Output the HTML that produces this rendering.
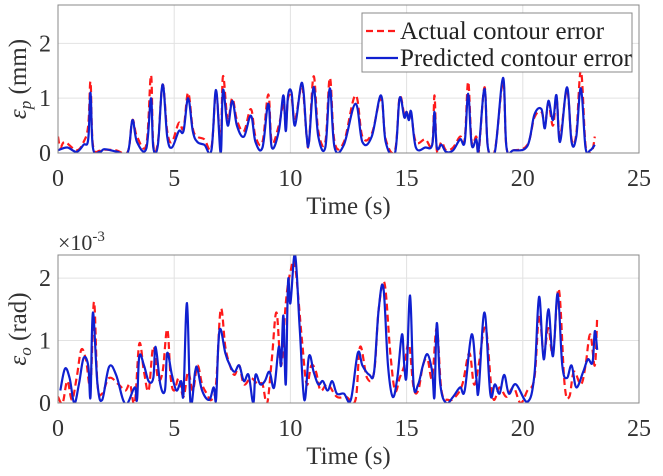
<!DOCTYPE html>
<html><head><meta charset="utf-8">
<style>
html,body{margin:0;padding:0;background:#fff;}
svg{display:block;font-family:"Liberation Serif",serif;}
</style></head>
<body>
<svg id="chart" width="663" height="476" viewBox="0 0 663 476" xmlns="http://www.w3.org/2000/svg"></svg>
<script>
// ---- Top panel data (position contour error, mm) ----
const topTimeP = [0,0.4,0.8,1.1,1.3,1.4,1.5,1.8,2.0,2.5,3.0,3.2,3.4,3.8,4.0,4.1,4.3,4.5,4.7,4.9,5.2,5.4,5.6,5.8,6.0,6.3,6.6,6.8,7.0,7.1,7.3,7.5,7.7,8.0,8.3,8.5,8.8,9.05,9.2,9.5,9.7,9.8,9.9,10.05,10.2,10.5,10.7,10.8,11.0,11.2,11.5,11.7,11.9,12.3,12.8,13.1,13.5,13.9,14.1,14.5,14.7,14.9,15.0,15.1,15.2,15.4,15.8,16.1,16.2,16.3,16.5,16.7,17.0,17.3,17.5,17.65,17.8,18.0,18.1,18.35,18.5,18.8,19.15,19.3,19.6,20.2,20.5,20.8,20.95,21.1,21.3,21.45,21.6,21.9,22.1,22.3,22.5,22.7,22.9,23.1];
const topPred  = [0.05,0.1,0.02,0.15,0.25,1.1,0.1,0.02,0.07,0.03,0.01,0.6,0.2,0.08,1.0,0.1,0.15,1.25,0.3,0.1,0.4,0.4,1.0,0.4,0.2,0.15,0.05,1.15,0.0,1.15,0.5,0.95,0.5,0.3,0.68,0.2,0.1,0.9,0.1,0.4,1.05,0.4,1.05,1.1,0.5,1.28,0.3,0.2,1.2,0.3,0.1,1.18,0.1,0.15,0.9,0.2,0.3,1.05,0.2,0.0,1.0,0.65,0.75,0.6,0.75,0.1,0.1,0.15,0.75,0.1,0.15,0.02,0.05,0.25,0.2,1.08,0.15,0.25,0.05,1.17,0.1,0.02,1.37,0.1,0.05,0.13,0.7,0.8,0.45,0.95,0.6,1.05,0.2,1.2,0.2,0.3,1.18,0.1,0.05,0.15];
const topTimeA = [0,0.1,0.3,0.8,1.1,1.3,1.4,1.5,1.8,2.0,2.5,3.0,3.2,3.4,3.8,4.0,4.1,4.3,4.5,4.7,4.9,5.2,5.4,5.6,5.8,6.0,6.3,6.6,6.8,7.0,7.1,7.3,7.5,7.7,8.0,8.3,8.5,8.8,9.05,9.2,9.5,9.7,9.8,9.9,10.05,10.2,10.5,10.7,10.8,11.0,11.2,11.5,11.7,11.9,12.3,12.8,13.1,13.5,13.9,14.1,14.5,14.7,14.9,15.0,15.1,15.2,15.4,15.8,16.1,16.2,16.3,16.5,16.7,17.0,17.3,17.5,17.65,17.8,18.0,18.1,18.35,18.5,18.8,19.15,19.3,19.6,20.2,20.5,20.8,20.95,21.1,21.3,21.45,21.6,21.9,22.1,22.3,22.5,22.7,22.9,23.0,23.1];
const topAct   = [0.3,0.1,0.2,0.05,0.2,0.5,1.3,0.15,0.04,0.06,0.05,0.02,0.6,0.3,0.15,1.42,0.15,0.2,1.25,0.4,0.2,0.55,0.45,1.1,0.45,0.3,0.25,0.1,1.1,0.2,1.4,0.6,1.0,0.6,0.4,0.8,0.3,0.2,1.07,0.2,0.5,0.9,0.5,1.0,1.0,0.6,1.2,0.3,0.2,1.4,0.4,0.2,1.37,0.2,0.2,1.05,0.3,0.35,1.0,0.25,0.05,1.02,0.7,0.75,0.65,0.7,0.2,0.25,0.15,1.05,0.05,0.2,0.05,0.1,0.3,0.25,1.3,0.2,0.3,0.0,1.2,0.1,0.05,1.3,0.1,0.05,0.15,0.65,0.75,0.5,0.9,0.5,1.0,0.3,1.15,0.25,0.35,1.5,0.15,0.0,0.05,0.3];
// ---- Bottom panel data (orientation contour error, x1e-3 rad) ----
const botTimeP = [0.1,0.3,0.5,0.7,0.9,1.1,1.3,1.4,1.5,1.7,1.9,2.2,2.5,2.8,3.0,3.3,3.4,3.5,3.7,3.9,4.1,4.2,4.4,4.6,4.7,4.9,5.1,5.3,5.4,5.55,5.7,5.9,6.0,6.2,6.5,6.7,6.8,6.9,7.0,7.2,7.4,7.6,7.8,8.0,8.2,8.4,8.5,8.7,8.9,9.1,9.3,9.5,9.6,9.7,9.8,9.9,10.0,10.2,10.4,10.6,10.8,11.0,11.2,11.4,11.6,11.8,12.0,12.3,12.6,12.9,13.1,13.4,13.6,13.8,14.0,14.2,14.4,14.6,14.8,14.9,15.0,15.15,15.3,15.5,15.7,15.9,16.1,16.2,16.3,16.45,16.7,17.0,17.3,17.5,17.8,18.0,18.1,18.35,18.6,18.8,19.0,19.2,19.4,19.7,20.2,20.5,20.7,20.9,21.1,21.3,21.5,21.7,21.9,22.1,22.3,22.6,22.8,23.0,23.1,23.2];
const botPred  = [0.2,0.55,0.4,0.0,0.3,0.72,0.6,0.1,1.45,0.3,0.05,0.58,0.45,0.05,0.0,0.25,0.05,0.75,0.6,0.35,0.4,0.9,0.3,0.2,0.8,0.45,0.2,0.35,0.15,1.6,0.0,0.5,0.55,0.2,0.05,0.25,0.05,0.95,1.18,0.8,0.6,0.5,0.6,0.35,0.45,0.0,0.45,0.3,0.35,0.5,0.25,0.9,0.6,1.4,0.3,1.95,1.6,2.38,1.2,0.05,0.75,0.5,0.3,0.35,0.2,0.35,0.15,0.15,0.05,0.8,0.6,0.45,0.5,1.5,1.85,0.6,0.1,0.4,1.1,0.6,0.45,1.72,0.3,0.3,0.6,0.78,0.5,0.1,1.28,0.3,0.0,0.1,0.25,0.2,1.1,0.4,0.2,1.45,0.15,0.3,0.15,0.45,0.15,0.3,0.02,0.45,1.7,0.7,1.5,0.75,1.75,0.6,0.4,0.6,0.25,0.5,0.7,0.65,1.15,0.85];
const botTimeA = [0.0,0.2,0.4,0.6,0.8,1.0,1.2,1.4,1.55,1.7,1.9,2.2,2.6,2.9,3.1,3.3,3.5,3.7,3.9,4.1,4.3,4.5,4.7,4.85,5.0,5.2,5.4,5.6,5.8,6.0,6.2,6.4,6.6,6.8,7.0,7.2,7.4,7.6,7.8,8.0,8.3,8.6,8.8,9.0,9.2,9.4,9.6,9.8,10.0,10.2,10.5,10.7,10.9,11.1,11.3,11.6,12.0,12.4,12.8,13.0,13.3,13.6,13.8,14.05,14.3,14.5,14.7,14.9,15.1,15.3,15.5,15.7,15.9,16.1,16.3,16.5,16.8,17.1,17.4,17.7,17.9,18.1,18.4,18.7,19.0,19.3,19.6,19.9,20.2,20.5,20.7,20.9,21.1,21.3,21.55,21.8,22.0,22.2,22.5,22.7,22.9,23.1,23.2];
const botAct   = [0.1,0.0,0.35,0.05,0.4,0.85,0.7,0.3,1.62,0.3,0.15,0.4,0.3,0.2,0.3,0.0,0.95,0.5,0.2,0.9,0.4,0.5,1.18,0.4,0.2,0.4,0.1,0.5,0.2,0.6,0.3,0.15,0.05,0.3,1.5,0.9,0.6,0.45,0.6,0.3,0.4,0.3,0.3,0.0,0.7,1.45,0.6,1.6,2.1,2.2,1.0,0.3,0.6,0.5,0.2,0.3,0.1,0.1,0.05,0.9,0.4,0.5,1.5,1.92,0.8,0.2,0.4,0.6,0.95,0.25,0.2,0.6,0.7,0.4,1.2,0.2,0.05,0.1,0.3,0.8,0.3,0.6,1.2,0.1,0.25,0.1,0.25,0.0,0.2,0.4,1.4,0.8,1.2,0.8,1.82,0.3,0.1,0.5,0.3,0.6,1.1,0.6,1.38];

const NS='http://www.w3.org/2000/svg';
const svg=document.getElementById('chart');
function mk(tag,attrs,parent){const e=document.createElementNS(NS,tag);for(const k in attrs)e.setAttribute(k,attrs[k]);(parent||svg).appendChild(e);return e;}

function smoothPath(pts){
  let d='M'+pts[0][0].toFixed(1)+' '+pts[0][1].toFixed(1);
  for(let i=0;i<pts.length-1;i++){
    const p0=pts[Math.max(0,i-1)],p1=pts[i],p2=pts[i+1],p3=pts[Math.min(pts.length-1,i+2)];
    const k=0.18;
    const c1x=p1[0]+(p2[0]-p0[0])*k,c1y=p1[1]+(p2[1]-p0[1])*k;
    const c2x=p2[0]-(p3[0]-p1[0])*k,c2y=p2[1]-(p3[1]-p1[1])*k;
    d+='C'+c1x.toFixed(1)+' '+c1y.toFixed(1)+' '+c2x.toFixed(1)+' '+c2y.toFixed(1)+' '+p2[0].toFixed(1)+' '+p2[1].toFixed(1);
  }
  return d;
}

function panel(cfg){
  const g=mk('g',{});
  
  
  const L=58,R=639,T=cfg.top,B=cfg.bottom;
  const xs=t=>L+(t/25)*(R-L);
  const ys=v=>B-(v/cfg.ymax)*(B-T);
  [5,10,15,20].forEach(t=>{const l=mk('line',{x1:xs(t),x2:xs(t),y1:T,y2:B,stroke:'#e2e2e2','stroke-width':1},g);
    });
  cfg.yticks.forEach(v=>{if(v===0)return;const l=mk('line',{x1:L,x2:R,y1:ys(v),y2:ys(v),stroke:'#e2e2e2','stroke-width':1},g);
    });
  const clipId='clip-'+cfg.name;
  const cp=mk('clipPath',{id:clipId},g);
  mk('rect',{x:L,y:T,width:R-L,height:B-T},cp);
  function series(times,vals,color,dash,name){
    const pts=times.map((t,i)=>[xs(t),ys(vals[i])]);
    const p=mk('path',{d:smoothPath(pts),fill:'none',stroke:color,'stroke-width':2.2,'stroke-linejoin':'round','clip-path':'url(#'+clipId+')'},g);
    if(dash)p.setAttribute('stroke-dasharray',dash);
    
  }
  series(cfg.tA,cfg.vA,'#ff1a1a','7,4','actual-series');
  series(cfg.tP,cfg.vP,'#1020d0',null,'predicted-series');
  const bx=mk('rect',{x:L,y:T,width:R-L,height:B-T,fill:'none',stroke:'#888','stroke-width':1},g);
  
  [0,5,10,15,20,25].forEach(t=>{
    const tx=mk('text',{x:xs(t),y:B+33,'text-anchor':'middle','font-size':24,fill:'#333'},g);
    tx.textContent=t;
    
  });
  cfg.yticks.forEach(v=>{
    const tx=mk('text',{x:L-7,y:ys(v)+8,'text-anchor':'end','font-size':24,fill:'#333'},g);
    tx.textContent=v;
    
  });
  const xl=mk('text',{x:(L+R)/2,y:B+61,'text-anchor':'middle','font-size':25,fill:'#333'},g);
  xl.textContent='Time (s)';
  
  const yl=mk('text',{transform:`translate(26,${(T+B)/2}) rotate(-90)`,'text-anchor':'middle','font-size':25,fill:'#333'},g);
  yl.innerHTML='<tspan font-style="italic">ε</tspan><tspan font-style="italic" font-size="17" dy="5">'+cfg.sub+'</tspan><tspan dy="-5"> ('+cfg.unit+')</tspan>';
  
}

panel({name:'position-error-panel',top:5,bottom:153,ymax:2.7,yticks:[0,1,2],sub:'p',unit:'mm',tP:topTimeP,vP:topPred,tA:topTimeA,vA:topAct});
panel({name:'orientation-error-panel',top:255,bottom:403,ymax:2.37,yticks:[0,1,2],sub:'o',unit:'rad',tP:botTimeP,vP:botPred,tA:botTimeA,vA:botAct});

const ex=mk('text',{x:58,y:250,'font-size':22,fill:'#333'});
ex.innerHTML='×10<tspan font-size="15" dy="-9">-3</tspan>';



const lg=mk('g',{});


mk('rect',{x:362,y:13,width:270,height:59,fill:'#fff',stroke:'#888','stroke-width':1},lg);
const l1=mk('line',{x1:366,x2:398,y1:31,y2:31,stroke:'#ff1a1a','stroke-width':2.2,'stroke-dasharray':'7,4'},lg);

const t1=mk('text',{x:400,y:39,'font-size':25,fill:'#222'},lg);t1.textContent='Actual contour error';

const l2=mk('line',{x1:366,x2:398,y1:58,y2:58,stroke:'#1020d0','stroke-width':2.2},lg);

const t2=mk('text',{x:400,y:66,'font-size':25,fill:'#222'},lg);t2.textContent='Predicted contour error';

</script>
</body></html>
